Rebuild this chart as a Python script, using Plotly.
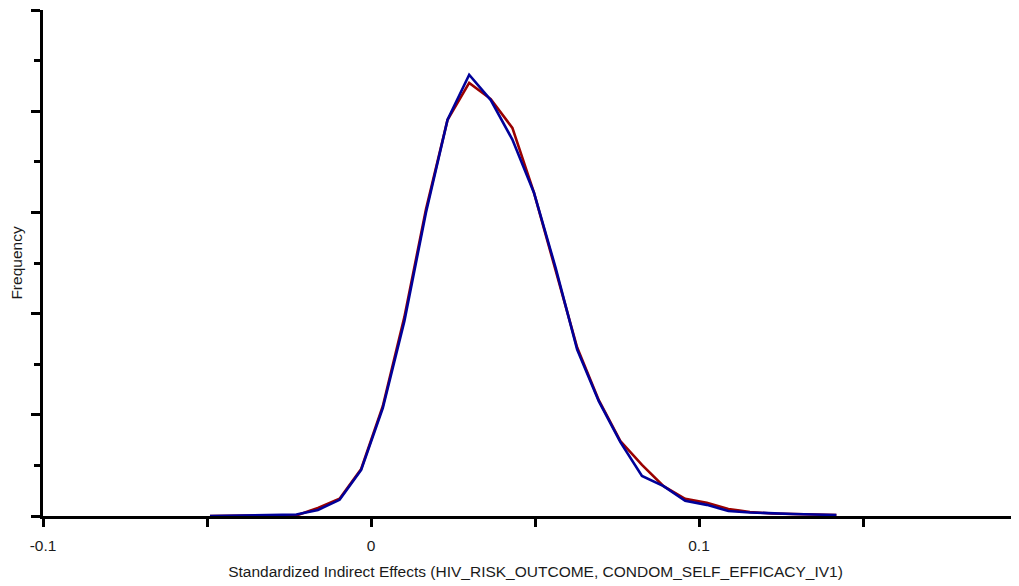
import plotly.graph_objects as go

# Bin centres (standardized indirect effect) and relative frequencies
x_start = -0.04909
x_step = 0.006585
n_bins = 30
x_vals = [round(x_start + i * x_step, 5) for i in range(n_bins)]

freq_blue = [0.00, 0.01, 0.01, 0.02, 0.03, 0.12, 0.32, 0.91, 2.13, 3.85,
             6.00, 7.83, 8.72, 8.22, 7.44, 6.39, 4.91, 3.29, 2.27, 1.46,
             0.79, 0.59, 0.30, 0.22, 0.10, 0.07, 0.05, 0.04, 0.03, 0.02]
freq_red = [0.00, 0.01, 0.01, 0.01, 0.01, 0.16, 0.34, 0.93, 2.17, 3.93,
            6.06, 7.83, 8.56, 8.24, 7.67, 6.39, 4.87, 3.33, 2.29, 1.48,
            1.01, 0.59, 0.34, 0.26, 0.14, 0.08, 0.05, 0.04, 0.03, 0.02]

x_tickvals = [-0.1, -0.05, 0, 0.05, 0.1, 0.15]
x_ticktext = ["-0.1", "", "0", "", "0.1", ""]

x_title = "Standardized Indirect Effects (HIV_RISK_OUTCOME, CONDOM_SELF_EFFICACY_IV1)"
y_title = "Frequency"

fig = go.Figure()
fig.add_trace(go.Scatter(x=x_vals, y=freq_red, mode="lines",
                         line=dict(color="#990000", width=2.6), showlegend=False))
fig.add_trace(go.Scatter(x=x_vals, y=freq_blue, mode="lines",
                         line=dict(color="#000099", width=2.6), showlegend=False))

font = dict(family="Liberation Sans, Arial, sans-serif", size=15.5, color="#1a1a1a")

# the page body adds an 8px offset, so the figure is shifted accordingly
fig.update_layout(
    template="none",
    width=1020, height=578,
    margin=dict(l=35, r=0, t=2, b=70),
    paper_bgcolor="white", plot_bgcolor="white",
    font=font,
    xaxis=dict(
        range=[-0.1, 0.2003], showgrid=False, zeroline=False, automargin=False,
        showline=True, linecolor="black", linewidth=3,
        ticks="outside", ticklen=8, tickwidth=3, tickcolor="black",
        tickvals=x_tickvals, ticktext=x_ticktext,
        tickfont=font, ticklabelstandoff=5,
        title=dict(text=x_title, font=font, standoff=14),
    ),
    yaxis=dict(
        range=[0, 10], showgrid=False, zeroline=False, automargin=False,
        showline=True, linecolor="black", linewidth=3,
        ticks="outside", ticklen=9, tickwidth=3, tickcolor="black",
        dtick=2, tick0=0, showticklabels=False,
        minor=dict(dtick=1, ticks="outside", ticklen=6, tickwidth=3, tickcolor="black"),
        title=dict(text=y_title, font=font, standoff=8),
    ),
)

fig.write_html("out.html")
